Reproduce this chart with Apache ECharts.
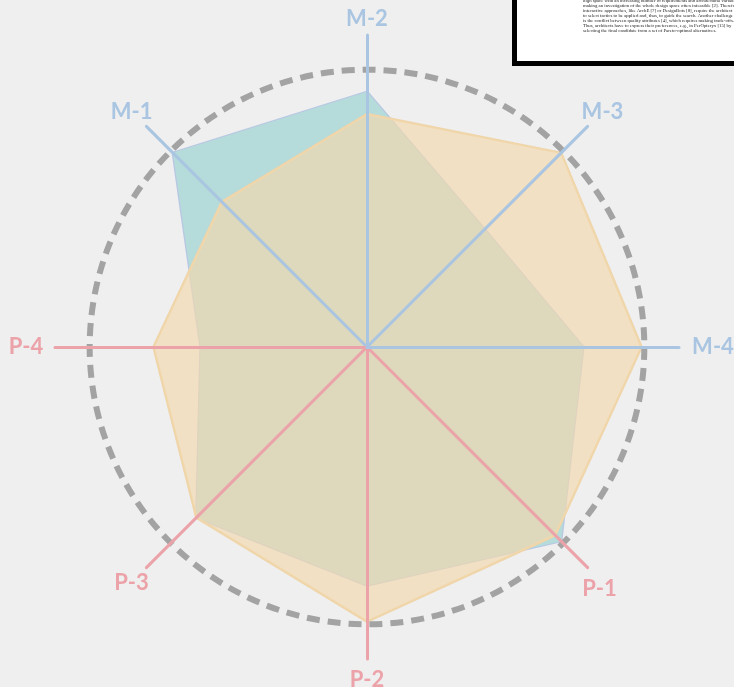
<!DOCTYPE html>
<html>
<head>
<meta charset="utf-8">
<script src="https://cdn.jsdelivr.net/npm/echarts@6/dist/echarts.min.js"></script>
<style>
  html, body { margin: 0; padding: 0; background: #efefef; }
  #myChart { width: 734px; height: 687px; }
</style>
</head>
<body>
<div id="myChart"></div>
<script>
// axes, counter-clockwise from the top (echarts radar order)
const axisNames = ['M-2', 'M-1', 'P-4', 'P-3', 'P-2', 'P-1', 'M-4', 'M-3']
// values relative to the dashed circle (= 1.0)
const tealValues = [0.92, 0.99, 0.60, 0.87, 0.86, 0.99, 0.78, 0.60]
const orangeValues = [0.84, 0.74, 0.77, 0.87, 0.99, 0.96, 0.99, 0.99]
const axisMax = 1.125

// snippet of the paper pasted in the corner
const paperLines = [
  'high space with an increasing number of requirements and architectural variables',
  'making an investigation of the whole design space often infeasible [2]. Therefore,',
  'interactive approaches, like ArchE [7] or DesignBots [8], require the architect',
  'to select tactics to be applied and, thus, to guide the search. Another challenge',
  'is the conflict between quality attributes [4], which requires making trade-offs.',
  'Thus, architects have to express their preferences, e.g., in PerOpteryx [15] by',
  'selecting the final candidate from a set of Pareto-optimal alternatives.'
]

const blue = '#a9c5e1'
const pink = '#eca2a9'

const indicator = axisNames.map(function (n) {
  const c = n[0] === 'M' ? blue : pink
  return { name: n, max: axisMax, min: 0, color: c, axisLine: { lineStyle: { color: c } } }
})

// only the ring at 1.0 is drawn (index 8 of 0..9)
const ringColors = []
for (let i = 0; i <= 9; i++) ringColors.push(i === 8 ? '#a3a3a3' : 'rgba(0,0,0,0)')

const nameFont = { fontFamily: 'Lato', fontWeight: 'bold', fontSize: 22 }

const myChart = echarts.init(document.getElementById('myChart'))
myChart.setOption({
  backgroundColor: '#efefef',
  animation: false,
  radar: {
    z: 10,
    center: [367, 347],
    radius: 312,
    shape: 'circle',
    splitNumber: 9,
    indicator: indicator,
    axisName: Object.assign({
      align: 'center',
      verticalAlign: 'middle',
      formatter: function (name) {
        if (name === 'M-4') return '{r|' + name + '}'
        if (name === 'P-4') return '{l|' + name + '}'
        if (name === 'P-1') return '{d|' + name + '}'
        if (name === 'M-2') return '{t|' + name + '}'
        return name
      },
      rich: {
        r: Object.assign({ padding: [0, 0, 0, 26] }, nameFont),
        l: Object.assign({ padding: [0, 16, 0, 0] }, nameFont),
        d: Object.assign({ padding: [12, 6, 0, 0] }, nameFont),
        t: Object.assign({ padding: [9, 0, 0, 0] }, nameFont)
      }
    }, nameFont),
    nameGap: 21,
    axisLine: { lineStyle: { width: 3 } },
    axisTick: { show: false },
    axisLabel: { show: false },
    splitArea: { show: false },
    splitLine: {
      lineStyle: { color: ringColors, width: 6, type: [13, 8] }
    }
  },
  series: [
    {
      type: 'radar',
      z: 2,
      symbol: 'none',
      data: [
        {
          value: tealValues,
          name: 'teal',
          lineStyle: { color: '#b8c7e3', width: 2.5 },
          areaStyle: { color: '#b5dbda', opacity: 1 }
        },
        {
          value: orangeValues,
          name: 'orange',
          lineStyle: { color: '#efd5a9', width: 2.5 },
          areaStyle: { color: 'rgba(242,216,173,0.67)', opacity: 1 }
        }
      ]
    }
  ],
  graphic: [
    {
      type: 'rect',
      z: 20,
      shape: { x: 514.5, y: -10, width: 240, height: 73.5 },
      style: { fill: '#ffffff', stroke: '#000000', lineWidth: 5 }
    },
    {
      type: 'text',
      z: 21,
      x: 583,
      y: -1.5,
      style: {
        text: paperLines.join('\n'),
        font: '4.8px "Liberation Serif"',
        lineHeight: 4.9,
        fill: '#222'
      }
    }
  ]
})
</script>
</body>
</html>
